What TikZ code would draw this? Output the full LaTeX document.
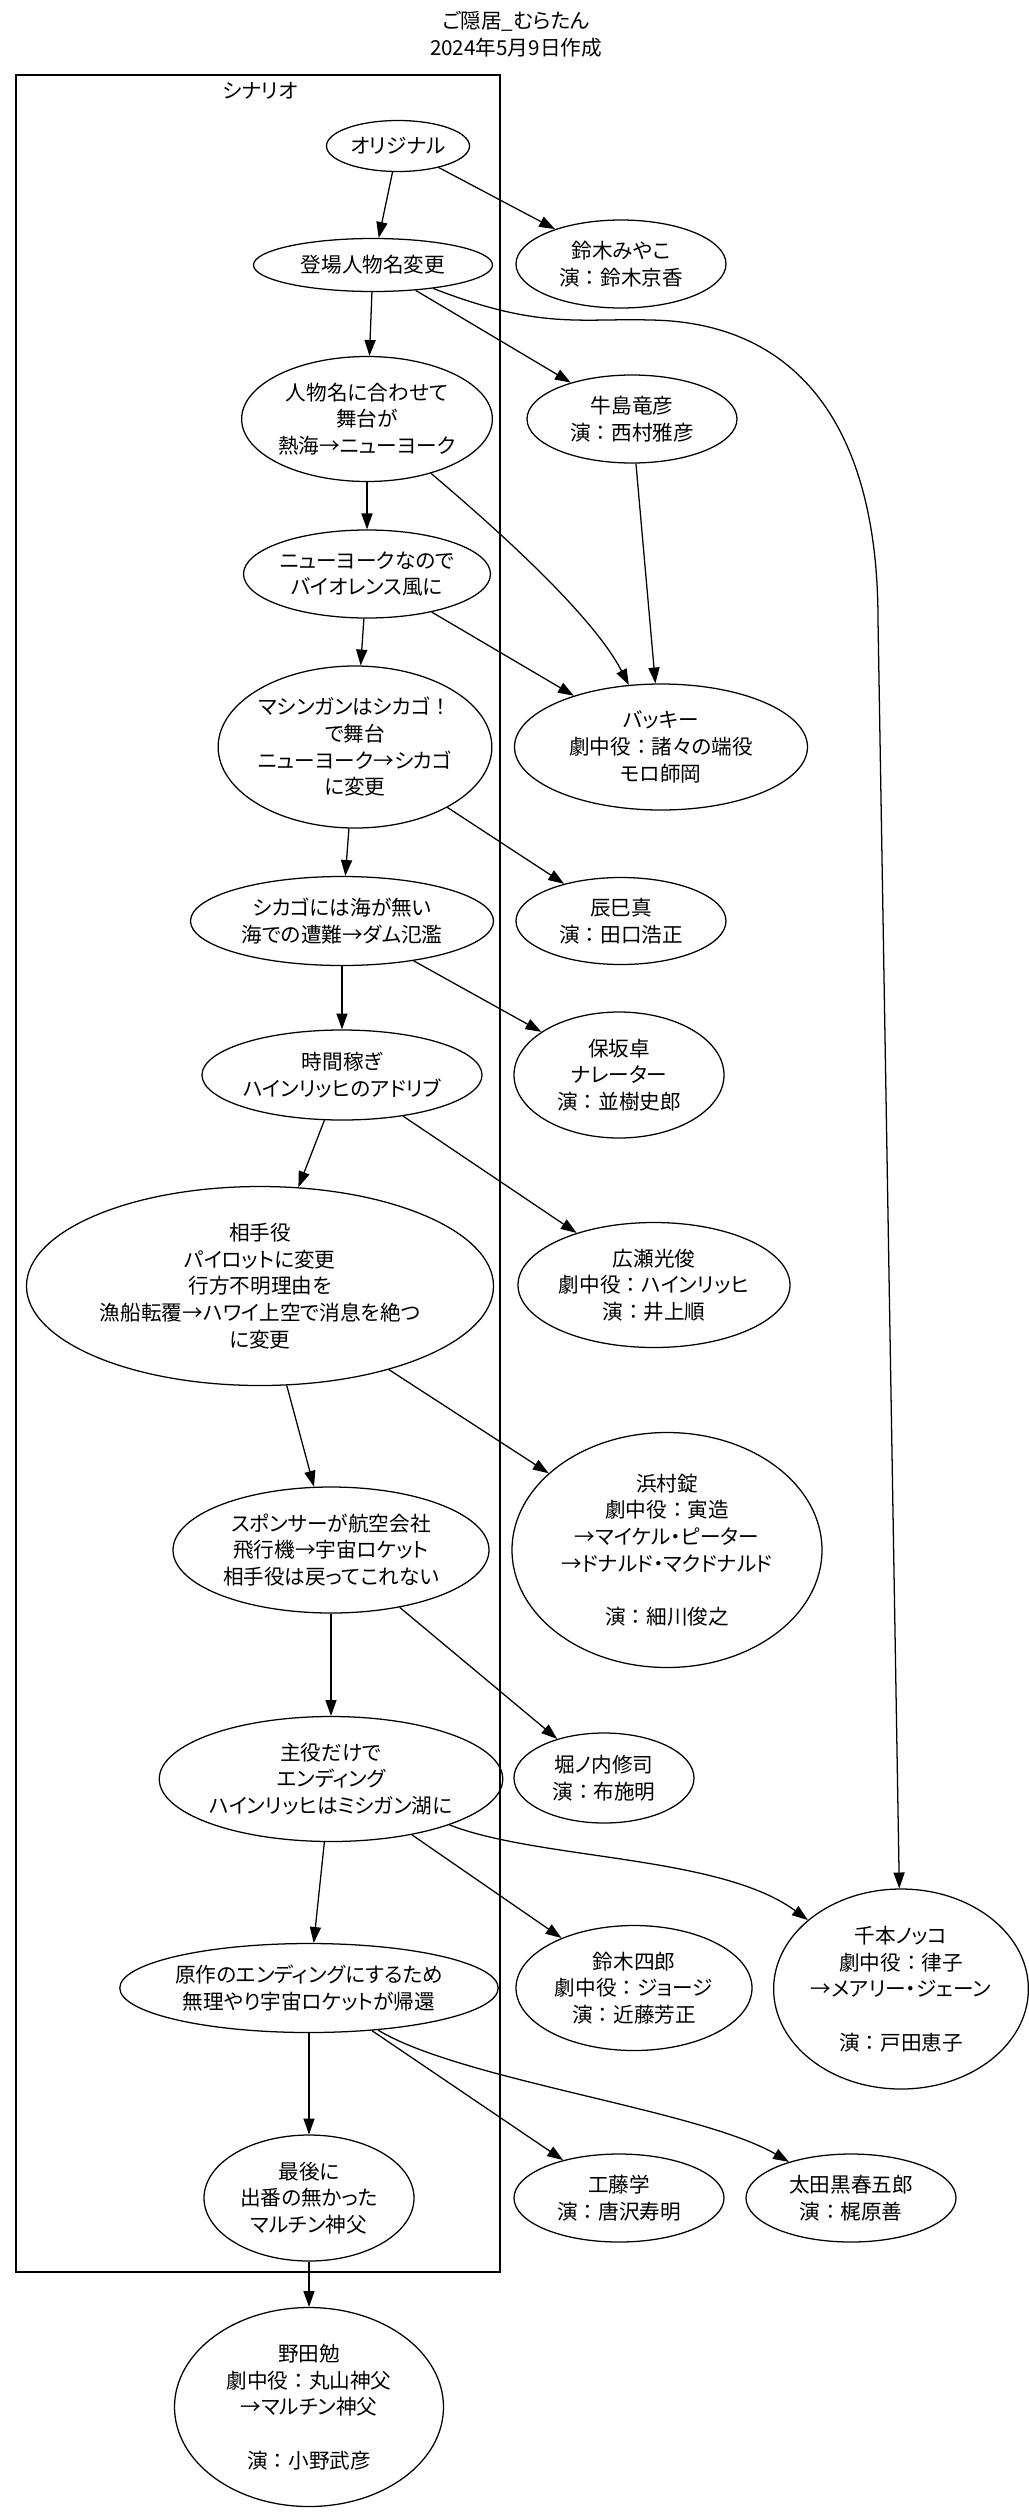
\documentclass[tikz,border=0pt]{standalone}
\usepackage{fontspec}
\setmainfont{Noto Sans CJK JP}[RawFeature=+palt]
\newfontfamily\fullfont{Noto Sans CJK JP}
\newcommand\zcol{{\fullfont ：}}
\usetikzlibrary{shapes.geometric, arrows.meta}

\begin{document}
\begin{tikzpicture}[x=0.63pt, y=-0.63pt,
    font=\fontsize{13pt}{16.8pt}\selectfont,
    ell/.style 2 args={draw, ellipse, line width=0.8pt, inner sep=0pt, align=center,
        minimum width=#1*0.63pt, minimum height=#2*0.63pt},
    arr/.style={-{Triangle[length=10pt, width=7pt]}, line width=0.8pt}]
    \useasboundingbox (0,0) rectangle (1029,2512);

    % Title
    \node[align=center] (title) at (516,34) {ご隠居\_むらたん\\2024年5月9日作成};

    % Scenario cluster
    \draw[line width=0.8pt] (16,75) rectangle (500,2272);
    \node (cluster) at (260,91) {シナリオ};

    % Scenario steps
    \node[ell={143}{51}] (orig) at (398,146) {オリジナル};
    \node[ell={239}{53}] (tojo) at (373,265) {登場人物名変更};
    \node[ell={250}{125}] (jinbutsu) at (367,419) {人物名に合わせて\\舞台が\\熱海→ニューヨーク};
    \node[ell={236}{88}] (newyork) at (367,574) {ニューヨークなので\\バイオレンス風に};
    \node[ell={270}{162}] (machinegun) at (355,747) {マシンガンはシカゴ{\fullfont ！}\\で舞台\\ニューヨーク→シカゴ\\に変更};
    \node[ell={303}{89}] (chicago) at (342,921) {シカゴには海が無い\\海での遭難→ダム氾濫};
    \node[ell={261}{90}] (jikan) at (342,1075) {時間稼ぎ\\ハインリッヒのアドリブ};
    \node[ell={467}{199}] (aite) at (260,1286) {相手役\\パイロットに変更\\行方不明理由を\\漁船転覆→ハワイ上空で消息を絶つ\\に変更};
    \node[ell={316}{126}] (sponsor) at (331,1550) {スポンサーが航空会社\\飛行機→宇宙ロケット\\相手役は戻ってこれない};
    \node[ell={321}{125}] (shuyaku) at (331,1779) {主役だけで\\エンディング\\ハインリッヒはミシガン湖に};
    \node[ell={367}{89}] (gensaku) at (309,1988) {原作のエンディングにするため\\無理やり宇宙ロケットが帰還};
    \node[ell={210}{126}] (saigo) at (309,2198) {最後に\\出番の無かった\\マルチン神父};

    % Cast
    \node[ell={210}{88}] (miyako) at (621,264) {鈴木みやこ\\演\zcol 鈴木京香};
    \node[ell={210}{88}] (ushijima) at (632,419) {牛島竜彦\\演\zcol 西村雅彦};
    \node[ell={293}{126}] (bakki) at (661,747) {バッキー\\劇中役\zcol 諸々の端役\\モロ師岡};
    \node[ell={210}{87}] (tatsumi) at (621,921) {辰巳真\\演\zcol 田口浩正};
    \node[ell={210}{126}] (hosaka) at (619,1075) {保坂卓\\ナレーター\\演\zcol 並樹史郎};
    \node[ell={272}{125}] (hirose) at (654,1285) {広瀬光俊\\劇中役\zcol ハインリッヒ\\演\zcol 井上順};
    \node[ell={310}{235}] (hamamura) at (667,1550) {浜村錠\\劇中役\zcol 寅造\\→マイケル・ピーター\\→ドナルド・マクドナルド\\[16.8pt]演\zcol 細川俊之};
    \node[ell={180}{90}] (horinouchi) at (604,1778) {堀ノ内修司\\演\zcol 布施明};
    \node[ell={236}{125}] (shiro) at (634,1988) {鈴木四郎\\劇中役\zcol ジョージ\\演\zcol 近藤芳正};
    \node[ell={252}{200}] (nokko) at (901,1989) {千本ノッコ\\劇中役\zcol 律子\\→メアリー・ジェーン\\[16.8pt]演\zcol 戸田恵子};
    \node[ell={210}{88}] (kudo) at (619,2198) {工藤学\\演\zcol 唐沢寿明};
    \node[ell={210}{88}] (otaguro) at (851,2198) {太田黒春五郎\\演\zcol 梶原善};
    \node[ell={269}{199}] (noda) at (309,2407) {野田勉\\劇中役\zcol 丸山神父\\→マルチン神父\\[16.8pt]演\zcol 小野武彦};

    % Scenario chain
    \foreach \a/\b in {orig/tojo, tojo/jinbutsu, jinbutsu/newyork, newyork/machinegun,
        machinegun/chicago, chicago/jikan, jikan/aite, aite/sponsor, sponsor/shuyaku,
        shuyaku/gensaku, gensaku/saigo, saigo/noda}
        \draw[arr] (\a) -- (\b);

    % Steps to cast
    \foreach \a/\b in {orig/miyako, tojo/ushijima, ushijima/bakki, newyork/bakki,
        machinegun/tatsumi, chicago/hosaka, jikan/hirose, aite/hamamura,
        sponsor/horinouchi, shuyaku/shiro, gensaku/kudo}
        \draw[arr] (\a) -- (\b);

    % Curved connectors
    \draw[arr] (tojo) .. controls (540,330) and (580,318) .. (650,320)
        .. controls (800,322) and (878,430) .. (878,620) -- (nokko);
    \draw[arr] (jinbutsu) .. controls (480,515) and (590,610) .. (bakki);
    \draw[arr] (shuyaku) .. controls (540,1860) and (720,1855) .. (nokko);
    \draw[arr] (gensaku) .. controls (460,2080) and (700,2110) .. (otaguro);
\end{tikzpicture}
\end{document}
